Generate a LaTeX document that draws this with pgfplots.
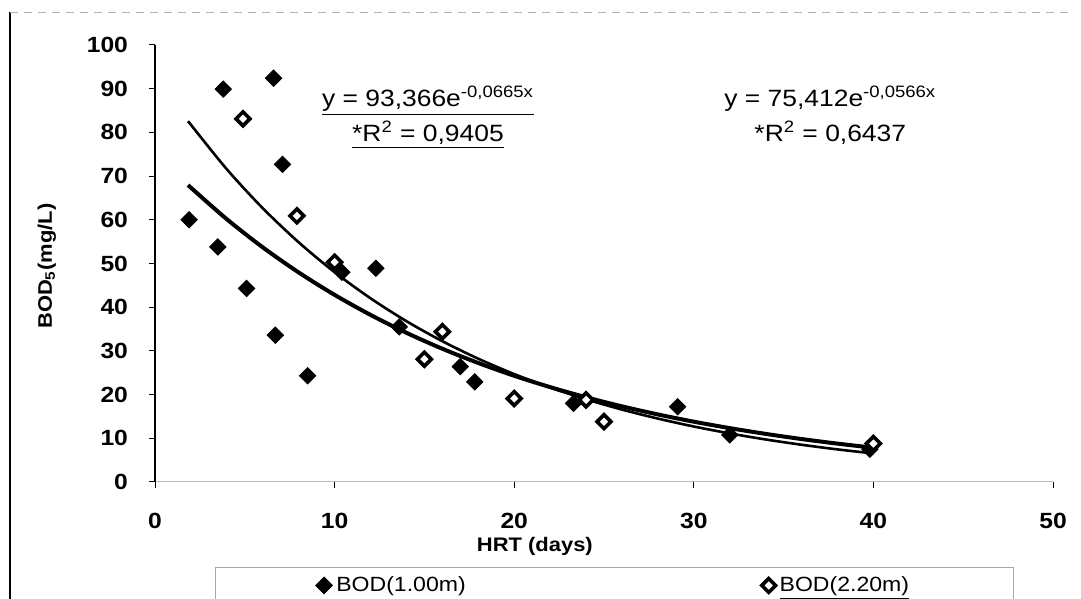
\documentclass[border=0pt]{standalone}
\usepackage{fontspec}
\setmainfont{Liberation Sans}[FakeStretch=1.12]
\usepackage{pgfplots}
\pgfplotsset{compat=1.18}

\begin{document}
\begin{tikzpicture}
\path[use as bounding box] (0,0) rectangle (540.5pt,299.5pt);
\draw[black, line width=0.6pt] (5pt,0) -- (5pt,293.5pt);
\draw[gray!60, line width=0.4pt, dash pattern=on 4pt off 3pt] (5pt,293.5pt) -- (536pt,293.5pt);
\begin{axis}[
  at={(77.5pt,58.5pt)}, anchor=south west,
  scale only axis, width=449pt, height=218.5pt,
  xmin=0, xmax=50, ymin=0, ymax=100,
  xtick={0,10,...,50}, ytick={0,10,...,100},
  axis x line*=bottom, axis y line*=left,
  x axis line style={gray!55, line width=0.5pt},
  y axis line style={black, line width=0.7pt},
  tick align=outside, major tick length=3pt,
  tick style={black, line width=0.5pt},
  /pgf/number format/assume math mode=true,
  ticklabel style={font=\fontsize{11}{13}\selectfont\bfseries},
  xticklabel style={yshift=-9pt},
  yticklabel style={xshift=-7pt},
  xlabel={HRT (days)}, ylabel={BOD\textsubscript{5}(mg/L)},
  label style={font=\fontsize{9.8}{11}\selectfont\bfseries},
  xlabel style={at={(axis description cs:0.423,-0.1465)}, anchor=center},
  ylabel style={at={(axis description cs:-0.1203,0.494)}, anchor=center},
  clip=false,
  legend columns=2,
  legend style={at={(axis description cs:0.5117,-0.1945)}, anchor=north,
    draw=gray!70, line width=0.5pt, font=\fontsize{10.3}{12}\selectfont,
    inner xsep=50pt, inner ysep=2.5pt,
    /tikz/every even column/.append style={column sep=146pt}},
  legend image code/.code={\draw[#1] plot coordinates {(3pt,0pt)};},
]
\addplot[only marks, mark=square*, mark size=2.9pt, mark options={rotate=45, fill=black, draw=black}]
  coordinates {(1.9,60.0) (3.5,53.8) (3.8,89.9) (5.1,44.3) (6.6,92.4) (6.7,33.6) (7.1,72.7)
  (8.5,24.3) (10.4,48.0) (12.3,48.9) (13.6,35.5) (17.0,26.4) (17.8,22.9) (23.3,18.0)
  (29.1,17.2) (32.0,10.8) (39.8,7.5)};
\addlegendentry{BOD(1.00m)}
\addplot[only marks, mark=square*, mark size=2.45pt, mark options={rotate=45, fill=white, draw=black, line width=1.8pt}]
  coordinates {(4.9,83.1) (7.9,60.9) (10.0,50.3) (15.0,28.1) (16.0,34.4) (20.0,19.1)
  (24.0,18.8) (25.0,13.8) (40.0,8.8)};
\addlegendentry{\underline{BOD(2.20m)}}
% trendline y = 93.366 exp(-0.0665x), tabulated
\addplot[black, line width=1.3pt, smooth, forget plot] coordinates {
  (1.9,82.28) (2,81.74) (4,71.56) (6,62.65) (8,54.85) (10,48.01) (12,42.04) (14,36.80)
  (16,32.22) (18,28.21) (20,24.69) (22,21.62) (24,18.93) (26,16.57) (28,14.51) (30,12.70)
  (32,11.12) (34,9.73) (36,8.52) (38,7.46) (40,6.53)};
% trendline y = 75.412 exp(-0.0566x), tabulated
\addplot[black, line width=2pt, smooth, forget plot] coordinates {
  (1.9,67.72) (2,67.34) (4,60.13) (6,53.70) (8,47.95) (10,42.82) (12,38.24) (14,34.14)
  (16,30.49) (18,27.23) (20,24.31) (22,21.71) (24,19.39) (26,17.31) (28,15.46) (30,13.80)
  (32,12.33) (34,11.01) (36,9.83) (38,8.78) (40,7.84)};
\node[font=\fontsize{11.8}{17.5}\selectfont, align=center] at (axis cs:15.2,83.4)
  {\underline{y = 93,366e\textsuperscript{-0,0665x}}\\\underline{*R\textsuperscript{2} = 0,9405}};
\node[font=\fontsize{11.8}{17.5}\selectfont, align=center] at (axis cs:37.6,84.0)
  {y = 75,412e\textsuperscript{-0,0566x}\\*R\textsuperscript{2} = 0,6437};
\end{axis}
\end{tikzpicture}
\end{document}
